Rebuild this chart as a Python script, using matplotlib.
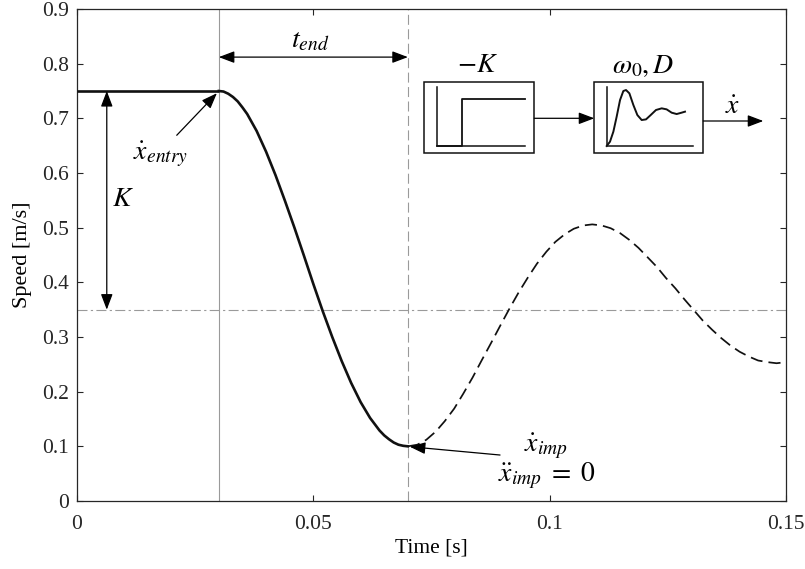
import matplotlib
matplotlib.use("Agg")
import matplotlib.pyplot as plt
from matplotlib.patches import Rectangle

plt.rcParams['font.family'] = ['Liberation Serif', 'DejaVu Serif']
plt.rcParams['mathtext.fontset'] = 'stix'

# ---- data ----
hold_time = [0.0, 0.03]
hold_speed = [0.75, 0.75]

fall_time = [0.030, 0.031, 0.032, 0.033, 0.034, 0.035, 0.036, 0.038, 0.040, 0.042,
             0.044, 0.046, 0.048, 0.050, 0.052, 0.054, 0.056, 0.058, 0.060, 0.062,
             0.064, 0.065, 0.066, 0.067, 0.068, 0.069, 0.070]
fall_speed = [0.750, 0.749, 0.745, 0.739, 0.731, 0.720, 0.708, 0.677, 0.639, 0.596,
              0.549, 0.500, 0.449, 0.397, 0.347, 0.300, 0.256, 0.216, 0.181, 0.152,
              0.129, 0.120, 0.113, 0.107, 0.103, 0.101, 0.100]

osc_time = [0.0700, 0.0720, 0.0739, 0.0759, 0.0778, 0.0798, 0.0817, 0.0837, 0.0856,
            0.0876, 0.0895, 0.0915, 0.0934, 0.0954, 0.0973, 0.0993, 0.1012, 0.1032,
            0.1051, 0.1071, 0.1090, 0.1110, 0.1129, 0.1149, 0.1168, 0.1188, 0.1207,
            0.1227, 0.1246, 0.1266, 0.1285, 0.1305, 0.1324, 0.1344, 0.1363, 0.1383,
            0.1402, 0.1422, 0.1441, 0.1461, 0.1480, 0.1500]
osc_speed = [0.100, 0.103, 0.112, 0.127, 0.146, 0.169, 0.196, 0.226, 0.257,
             0.289, 0.320, 0.352, 0.381, 0.409, 0.434, 0.456, 0.474, 0.488,
             0.498, 0.504, 0.506, 0.504, 0.499, 0.490, 0.478, 0.463, 0.446,
             0.428, 0.408, 0.389, 0.369, 0.349, 0.330, 0.313, 0.298, 0.284,
             0.273, 0.264, 0.257, 0.254, 0.252, 0.254]

steady_speed = 0.35
step_time = 0.03
impact_time = 0.07

# icon curves for the block diagram (normalised icon coordinates)
icon_step_x = [0.0, 0.29, 0.29, 1.0]
icon_step_y = [0.0, 0.0, 0.80, 0.80]
icon_resp_x = [0.0, 0.038, 0.077, 0.115, 0.154, 0.192, 0.223, 0.262, 0.308, 0.354,
               0.404, 0.454, 0.508, 0.569, 0.635, 0.692, 0.75, 0.808, 0.865, 0.904]
icon_resp_y = [0.0, 0.073, 0.242, 0.494, 0.775, 0.927, 0.944, 0.888, 0.691, 0.522,
               0.438, 0.449, 0.522, 0.607, 0.635, 0.618, 0.562, 0.539, 0.562, 0.579]

xticks = [0, 0.05, 0.1, 0.15]
xticklabels = ['0', '0.05', '0.1', '0.15']
yticks = [0, 0.1, 0.2, 0.3, 0.4, 0.5, 0.6, 0.7, 0.8, 0.9]
yticklabels = ['0', '0.1', '0.2', '0.3', '0.4', '0.5', '0.6', '0.7', '0.8', '0.9']

W, H = 805, 569
fig = plt.figure(figsize=(W / 100, H / 100), dpi=100)
ax = fig.add_axes([77 / W, (H - 501) / H, (786 - 77) / W, (501 - 9) / H])

grey = '#9a9a9a'
ax.axvline(step_time, color=grey, lw=0.8, zorder=1)
ax.axvline(impact_time, color=grey, lw=0.8, ls=(0, (9, 4)), zorder=1)
ax.axhline(steady_speed, color=grey, lw=0.8, ls=(0, (9, 3, 2, 3)), zorder=1)

ax.plot(hold_time, hold_speed, color='#111111', lw=1.9, solid_capstyle='butt', zorder=3)
ax.plot(fall_time, fall_speed, color='#111111', lw=1.9, zorder=3)
ax.plot(osc_time, osc_speed, color='#111111', lw=1.25, ls=(0, (7, 3.5)), zorder=3)

ax.set_xlim(0, 0.15)
ax.set_ylim(0, 0.9)
ax.set_xticks(xticks)
ax.set_xticklabels(xticklabels)
ax.set_yticks(yticks)
ax.set_yticklabels(yticklabels)
ax.tick_params(direction='in', top=True, right=True, length=4.5, width=0.8,
               labelsize=15.5, colors='#262626')
ax.tick_params(axis='x', pad=10)
ax.tick_params(axis='y', pad=6)
for s in ax.spines.values():
    s.set_color('#262626')
    s.set_linewidth(0.9)
ax.set_xlabel('Time [s]', fontsize=15.5, labelpad=3)
ax.set_ylabel('Speed [m/s]', fontsize=16, labelpad=7)

arrow_kw = dict(color='black', lw=0.9, shrinkA=0, shrinkB=0, mutation_scale=10)
head2 = '<|-|>,head_length=0.95,head_width=0.36'
head1 = '-|>,head_length=0.95,head_width=0.36'
mfs = 20

# K arrow
ax.annotate('', xy=(0.0063, 0.35), xytext=(0.0063, 0.75),
            arrowprops=dict(arrowstyle=head2, **arrow_kw))
ax.text(0.0098, 0.551, r'$K$', fontsize=mfs, ha='center', va='center')

# t_end arrow
ax.annotate('', xy=(impact_time, 0.812), xytext=(step_time, 0.812),
            arrowprops=dict(arrowstyle=head2, **arrow_kw))
ax.text(0.0493, 0.842, r'$t_{end}$', fontsize=mfs, ha='center', va='center')

# x_entry
ax.annotate('', xy=(0.0296, 0.746), xytext=(0.0211, 0.669),
            arrowprops=dict(arrowstyle=head1, **arrow_kw))
ax.text(0.0176, 0.634, r'$\dot{x}_{entry}$', fontsize=mfs, ha='center', va='center')

# x_imp
ax.annotate('', xy=(0.0704, 0.0993), xytext=(0.0895, 0.0841),
            arrowprops=dict(arrowstyle=head1, **arrow_kw))
ax.text(0.0993, 0.101, r'$\dot{x}_{imp}$', fontsize=mfs, ha='center', va='center')
ax.text(0.0993, 0.046, r'$\ddot{x}_{imp}\;=\;0$', fontsize=mfs, ha='center', va='center')

# ---- block diagram inset (pixel-like layout coordinates) ----
ins = fig.add_axes([410 / W, (H - 165) / H, 370 / W, 120 / H])
ins.set_xlim(410, 780)
ins.set_ylim(165, 45)
ins.axis('off')

ins.add_patch(Rectangle((424.3, 82.3), 110, 71, fill=False, ec='#111111', lw=1.1))
ins.add_patch(Rectangle((594.3, 82.3), 109, 71, fill=False, ec='#111111', lw=1.1))
# step icon
ins.plot([436.7, 436.7, 525], [86.7, 146, 146], color='#111111', lw=1.1)
ins.plot([436.7 + v * (525 - 436.7) for v in icon_step_x],
         [146 - v * (146 - 86.7) for v in icon_step_y], color='#111111', lw=1.3)
# response icon
ins.plot([606.7, 606.7, 693.3], [86.7, 146, 146], color='#111111', lw=1.1)
ins.plot([606.7 + v * (693.3 - 606.7) for v in icon_resp_x],
         [146 - v * (146 - 86.7) for v in icon_resp_y], color='#111111', lw=1.4)

ins.annotate('', xy=(594.3, 118.3), xytext=(534.3, 118.3),
             arrowprops=dict(arrowstyle=head1, **arrow_kw))
ins.annotate('', xy=(763.3, 121), xytext=(703.3, 121),
             arrowprops=dict(arrowstyle=head1, **arrow_kw))
ins.text(478, 66, r'$-K$', fontsize=mfs, ha='center', va='center')
ins.text(643, 66, r'$\omega_0, D$', fontsize=mfs, ha='center', va='center')
ins.text(733, 107, r'$\dot{x}$', fontsize=mfs, ha='center', va='center')

fig.savefig('out.png', dpi=100)
